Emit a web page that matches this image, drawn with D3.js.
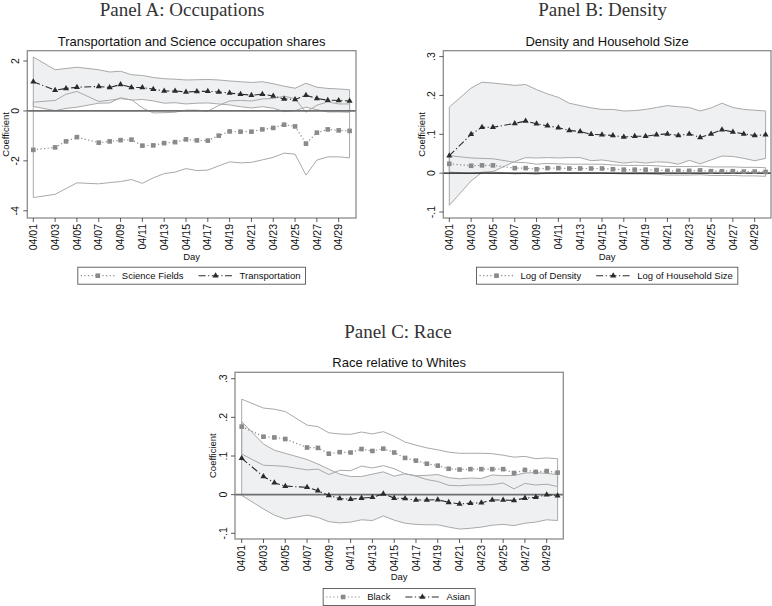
<!DOCTYPE html>
<html><head><meta charset="utf-8">
<script src="https://cdn.jsdelivr.net/npm/d3@7"></script>
<style>body{margin:0;background:#fff}svg{display:block}</style>
</head><body>
<svg id="c" width="772" height="606"></svg>
<script>
// ---- data ----
const days = [1,3,4,5,7,8,9,10,11,12,13,14,15,16,17,18,19,20,21,22,23,24,25,26,27,28,29,30];
const tickDays = [1,3,5,7,9,11,13,15,17,19,21,23,25,27,29];
const tickLabels = ["04/01","04/03","04/05","04/07","04/09","04/11","04/13","04/15","04/17","04/19","04/21","04/23","04/25","04/27","04/29"];

// Panel A
const sciEst = [-1.56,-1.46,-1.22,-1.05,-1.27,-1.22,-1.17,-1.15,-1.39,-1.38,-1.29,-1.25,-1.14,-1.18,-1.19,-0.99,-0.82,-0.83,-0.83,-0.74,-0.68,-0.55,-0.62,-1.31,-0.87,-0.74,-0.78,-0.80];
const sciLo  = [-3.47,-3.34,-3.11,-2.88,-2.92,-2.87,-2.83,-2.75,-2.90,-2.68,-2.51,-2.45,-2.31,-2.39,-2.37,-2.20,-2.04,-2.08,-2.06,-1.96,-1.86,-1.69,-1.73,-2.57,-1.97,-1.84,-1.84,-1.88];
const sciHi  = [0.35,0.42,0.67,0.78,0.38,0.43,0.49,0.45,0.12,-0.08,-0.07,-0.05,0.03,0.03,-0.01,0.22,0.40,0.42,0.40,0.48,0.50,0.59,0.49,-0.05,0.23,0.36,0.28,0.28];
const trEst  = [1.17,0.83,0.90,0.95,0.98,0.94,1.06,0.94,0.94,0.87,0.80,0.80,0.76,0.78,0.79,0.76,0.72,0.67,0.63,0.67,0.60,0.48,0.46,0.63,0.50,0.43,0.42,0.40];
const trHi   = [2.16,1.65,1.70,1.75,1.65,1.56,1.59,1.45,1.42,1.34,1.29,1.27,1.24,1.25,1.26,1.24,1.20,1.17,1.14,1.17,1.09,0.99,0.91,1.11,0.95,0.90,0.88,0.85];
const trLo   = [0.18,0.01,0.10,0.15,0.31,0.32,0.53,0.43,0.46,0.40,0.31,0.33,0.28,0.31,0.32,0.28,0.24,0.17,0.12,0.17,0.11,-0.03,0.01,0.15,0.05,-0.04,-0.04,-0.05];
const ticksA = [2,0,-2,-4];
const tickLabelsA = ["2","0","-2","-4"];

// Panel B
const denEst = [0.024,0.019,0.020,0.020,0.013,0.013,0.010,0.013,0.013,0.012,0.012,0.012,0.012,0.010,0.009,0.009,0.009,0.008,0.006,0.006,0.006,0.007,0.005,0.005,0.005,0.004,0.004,0.003];
const denHi  = [0.045,0.039,0.038,0.037,0.028,0.027,0.023,0.025,0.024,0.023,0.023,0.023,0.023,0.021,0.020,0.020,0.020,0.019,0.017,0.017,0.017,0.018,0.016,0.016,0.016,0.015,0.015,0.014];
const denLo  = [0.003,-0.001,0.002,0.003,-0.002,-0.001,-0.003,0.001,0.002,0.001,0.001,0.001,0.001,-0.001,-0.002,-0.002,-0.002,-0.003,-0.005,-0.005,-0.005,-0.004,-0.006,-0.006,-0.006,-0.007,-0.007,-0.008];
const hhEst  = [0.045,0.100,0.118,0.118,0.128,0.134,0.127,0.122,0.117,0.110,0.107,0.100,0.099,0.097,0.093,0.095,0.095,0.099,0.101,0.097,0.101,0.092,0.101,0.112,0.106,0.101,0.097,0.099];
const hhHi   = [0.170,0.219,0.234,0.232,0.226,0.228,0.215,0.204,0.195,0.180,0.174,0.168,0.164,0.164,0.160,0.161,0.164,0.169,0.174,0.171,0.169,0.160,0.168,0.180,0.169,0.164,0.162,0.160];
const hhLo   = [-0.083,-0.020,0.002,0.004,0.030,0.040,0.039,0.040,0.039,0.040,0.040,0.032,0.034,0.030,0.026,0.029,0.026,0.029,0.028,0.023,0.033,0.024,0.034,0.044,0.043,0.038,0.032,0.038];
const ticksBC = [0.3,0.2,0.1,0,-0.1];
const tickLabelsBC = [".3",".2",".1","0","-.1"];

// Panel C
const blkEst = [0.176,0.150,0.148,0.144,0.122,0.121,0.106,0.110,0.109,0.118,0.113,0.119,0.109,0.095,0.088,0.080,0.075,0.067,0.065,0.066,0.066,0.066,0.066,0.056,0.064,0.059,0.061,0.057];
const blkHi  = [0.247,0.224,0.221,0.215,0.180,0.176,0.160,0.157,0.156,0.162,0.157,0.163,0.151,0.136,0.128,0.121,0.116,0.110,0.107,0.107,0.107,0.106,0.102,0.097,0.099,0.093,0.095,0.093];
const blkLo  = [0.105,0.076,0.075,0.073,0.064,0.066,0.052,0.063,0.062,0.074,0.069,0.075,0.067,0.054,0.048,0.039,0.034,0.024,0.023,0.025,0.025,0.026,0.030,0.015,0.029,0.025,0.027,0.021];
const asnEst = [0.094,0.047,0.031,0.022,0.019,0.010,-0.002,-0.010,-0.012,-0.009,-0.007,0.002,-0.009,-0.010,-0.014,-0.014,-0.013,-0.020,-0.024,-0.022,-0.021,-0.014,-0.014,-0.015,-0.009,-0.007,0.000,-0.003];
const asnHi  = [0.189,0.131,0.115,0.107,0.091,0.079,0.066,0.053,0.047,0.047,0.053,0.059,0.048,0.054,0.049,0.050,0.052,0.044,0.041,0.043,0.042,0.051,0.049,0.050,0.056,0.057,0.055,0.052];
const asnLo  = [-0.002,-0.037,-0.053,-0.063,-0.053,-0.059,-0.070,-0.073,-0.071,-0.065,-0.067,-0.055,-0.066,-0.074,-0.077,-0.078,-0.078,-0.084,-0.089,-0.087,-0.084,-0.079,-0.077,-0.080,-0.074,-0.071,-0.065,-0.067];

// ---- styles ----
const SANS = "'Liberation Sans', Arial, Helvetica, sans-serif";
const SERIF = "'Liberation Serif', 'Times New Roman', serif";
const C1 = "#8a8a8a";  // first series (dotted, squares)
const C2 = "#2b2b2b";  // second series (dash-dot, triangles)
const BAND_FILL = "#eff0f2";
const BAND_LINE = "#a9a9a9";
const FRAME = "#8c8c8c";
const DOT = "1.2,2.4";
const DASHDOT = "7,2.5,1.2,2.5";

const svg = d3.select("#c");
svg.append("rect").attr("width",772).attr("height",606).attr("fill","#fff");

function panel(o){
  const g = svg.append("g");
  const x = d3.scaleLinear().domain([1,30]).range(o.xr);
  const y = d3.scaleLinear().domain(o.yd).range(o.yr);
  const [fx0,fx1,fy0,fy1] = o.frame;
  const cx = (fx0+fx1)/2;

  // titles
  g.append("text").attr("x",o.ptx).attr("y",o.pty).attr("text-anchor","middle")
    .attr("font-family",SERIF).attr("font-size",19).attr("fill","#333").text(o.ptitle);
  g.append("text").attr("x",cx).attr("y",o.cty).attr("text-anchor","middle")
    .attr("font-family",SANS).attr("font-size",13).attr("fill","#111").text(o.ctitle);

  const s1 = days.map((d,i)=>({d, e:o.s1.e[i], lo:o.s1.lo[i], hi:o.s1.hi[i]}));
  const s2 = days.map((d,i)=>({d, e:o.s2.e[i], lo:o.s2.lo[i], hi:o.s2.hi[i]}));

  const area = d3.area().x(p=>x(p.d)).y0(p=>y(p.lo)).y1(p=>y(p.hi));
  const lineOf = k => d3.line().x(p=>x(p.d)).y(p=>y(p[k]));

  // band fill (second series)
  g.append("path").datum(s2).attr("d",area).attr("fill",BAND_FILL).attr("stroke","none");
  // band outlines
  [s1,s2].forEach(s=>{
    ["lo","hi"].forEach(k=>{
      g.append("path").datum(s).attr("d",lineOf(k)).attr("fill","none")
        .attr("stroke",BAND_LINE).attr("stroke-width",1);
    });
    // vertical end edges of band
    [s[0], s[s.length-1]].forEach(p=>{
      g.append("line").attr("x1",x(p.d)).attr("x2",x(p.d)).attr("y1",y(p.lo)).attr("y2",y(p.hi))
        .attr("stroke",BAND_LINE).attr("stroke-width",1);
    });
  });

  // zero line
  g.append("line").attr("x1",fx0).attr("x2",fx1).attr("y1",y(0)).attr("y2",y(0))
    .attr("stroke",o.zeroColor).attr("stroke-width",o.zeroWidth);

  // estimate lines
  g.append("path").datum(s1).attr("d",lineOf("e")).attr("fill","none")
    .attr("stroke",C1).attr("stroke-width",1.2).attr("stroke-dasharray",DOT);
  g.append("path").datum(s2).attr("d",lineOf("e")).attr("fill","none")
    .attr("stroke",C2).attr("stroke-width",1.1).attr("stroke-dasharray",DASHDOT);
  // markers
  g.selectAll(null).data(s1).enter().append("rect")
    .attr("x",p=>x(p.d)-2.3).attr("y",p=>y(p.e)-2.3).attr("width",4.6).attr("height",4.6).attr("fill",C1);
  const tri = d3.symbol().type(d3.symbolTriangle).size(16);
  g.selectAll(null).data(s2).enter().append("path")
    .attr("transform",p=>`translate(${x(p.d)},${y(p.e)})`).attr("d",tri).attr("fill",C2);

  // frame
  g.append("rect").attr("x",fx0).attr("y",fy0).attr("width",fx1-fx0).attr("height",fy1-fy0)
    .attr("fill","none").attr("stroke",FRAME).attr("stroke-width",1.3);

  // y axis ticks & labels
  o.yt.forEach((v,i)=>{
    g.append("line").attr("x1",fx0-4).attr("x2",fx0).attr("y1",y(v)).attr("y2",y(v))
      .attr("stroke","#333").attr("stroke-width",0.8);
    g.append("text").attr("transform",`translate(${fx0-12},${y(v)}) rotate(-90)`)
      .attr("text-anchor","middle").attr("dy","0.35em")
      .attr("font-family",SANS).attr("font-size",10.5).attr("fill","#111").text(o.ytl[i]);
  });
  g.append("text").attr("transform",`translate(${fx0-22},${(fy0+fy1)/2}) rotate(-90)`)
    .attr("text-anchor","middle").attr("dy","0.35em")
    .attr("font-family",SANS).attr("font-size",9.5).attr("fill","#111").text("Coefficient");

  // x axis ticks & labels
  tickDays.forEach((d,i)=>{
    g.append("line").attr("x1",x(d)).attr("x2",x(d)).attr("y1",fy1).attr("y2",fy1+4)
      .attr("stroke","#333").attr("stroke-width",0.8);
    g.append("text").attr("transform",`translate(${x(d)},${fy1+6}) rotate(-90)`)
      .attr("text-anchor","end").attr("dy","0.35em")
      .attr("font-family",SANS).attr("font-size",10.5).attr("fill","#111").text(tickLabels[i]);
  });
  g.append("text").attr("x",cx).attr("y",o.dayY).attr("text-anchor","middle")
    .attr("font-family",SANS).attr("font-size",9.5).attr("fill","#111").text("Day");

  // legend
  const lg = g.append("g");
  const ly = o.legY;
  const box = lg.append("rect").attr("fill","#fff").attr("stroke","#555").attr("stroke-width",0.9);
  let cur = 0;
  const items = [
    {name:o.s1.name, color:C1, dash:DOT, marker:"sq", sw:1.2},
    {name:o.s2.name, color:C2, dash:DASHDOT, marker:"tri", sw:1.1}
  ];
  items.forEach((it,k)=>{
    cur += (k===0?3:15);
    const L = 34;
    lg.append("line").attr("x1",cur).attr("x2",cur+L).attr("y1",ly).attr("y2",ly)
      .attr("stroke",it.color).attr("stroke-width",it.sw).attr("stroke-dasharray",it.dash);
    if(it.marker==="sq"){
      lg.append("rect").attr("x",cur+L/2-2.3).attr("y",ly-2.3).attr("width",4.6).attr("height",4.6).attr("fill",it.color);
    } else {
      lg.append("path").attr("transform",`translate(${cur+L/2},${ly})`).attr("d",tri).attr("fill",it.color);
    }
    cur += L + 7;
    const t = lg.append("text").attr("x",cur).attr("y",ly).attr("dy","0.35em")
      .attr("font-family",SANS).attr("font-size",9.5).attr("fill","#111").text(it.name);
    cur += t.node().getComputedTextLength();
  });
  cur += 5;
  box.attr("x",0).attr("y",ly-8.5).attr("width",cur).attr("height",17);
  lg.attr("transform",`translate(${cx-cur/2},0)`);
}

panel({
  frame:[27.3,356,50.7,218], xr:[33.3,349.6], yd:[-4,2], yr:[210.8,61],
  yt:ticksA, ytl:tickLabelsA,
  ptitle:"Panel A: Occupations", ptx:182, pty:16,
  ctitle:"Transportation and Science occupation shares", cty:45.5,
  dayY:259.5, legY:275.7, zeroColor:"#6e6e6e", zeroWidth:1.8,
  s1:{name:"Science Fields", e:sciEst, lo:sciLo, hi:sciHi},
  s2:{name:"Transportation", e:trEst, lo:trLo, hi:trHi}
});
panel({
  frame:[443.3,771,50.7,218], xr:[449.3,765.6], yd:[-0.1,0.3], yr:[212,56.6],
  yt:ticksBC, ytl:tickLabelsBC,
  ptitle:"Panel B: Density", ptx:602.7, pty:16,
  ctitle:"Density and Household Size", cty:45.5,
  dayY:259.5, legY:275.7, zeroColor:"#111", zeroWidth:1.2,
  s1:{name:"Log of Density", e:denEst, lo:denLo, hi:denHi},
  s2:{name:"Log of Household Size", e:hhEst, lo:hhLo, hi:hhHi}
});
panel({
  frame:[235,563.3,372.3,539], xr:[241.7,557.6], yd:[-0.1,0.3], yr:[533.3,378.7],
  yt:ticksBC, ytl:tickLabelsBC,
  ptitle:"Panel C: Race", ptx:398, pty:337.5,
  ctitle:"Race relative to Whites", cty:366.5,
  dayY:580, legY:597, zeroColor:"#6e6e6e", zeroWidth:1.8,
  s1:{name:"Black", e:blkEst, lo:blkLo, hi:blkHi},
  s2:{name:"Asian", e:asnEst, lo:asnLo, hi:asnHi}
});
</script>
</body></html>
